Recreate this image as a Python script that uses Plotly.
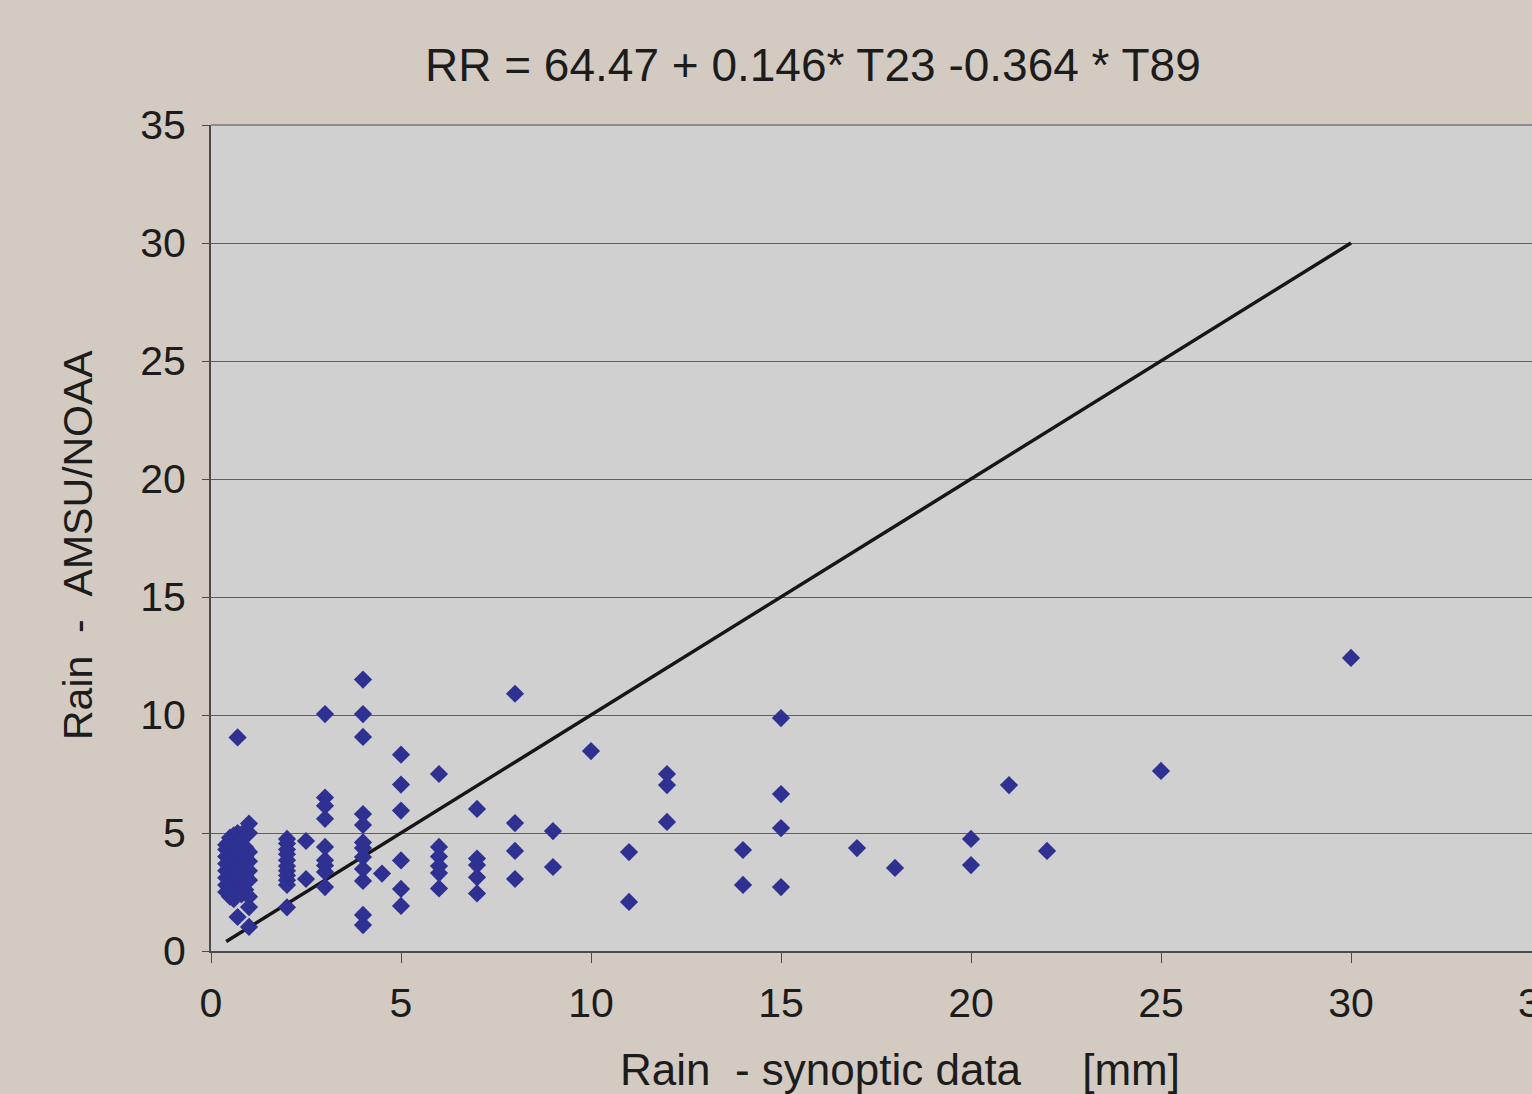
import plotly.graph_objects as go

# Rain gauge (synoptic) vs. AMSU/NOAA retrieved rain, mm
synoptic_mm = (
    [0.4] * 8 + [0.5] * 8 + [0.6] * 9 + [0.7] * 9 + [0.8] * 7 + [0.9] * 7 + [1.0] * 9
    + [2.0] * 11 + [2.5] * 2 + [3.0] * 9 + [4.0] * 12 + [4.5]
    + [5.0] * 6 + [6.0] * 6 + [7.0] * 5 + [8.0] * 4 + [9.0] * 2
    + [10.0] + [11.0] * 2 + [12.0] * 3 + [14.0] * 2 + [15.0] * 4
    + [17.0] + [18.0] + [20.0] * 2 + [21.0] + [22.0] + [25.0] + [30.0]
)
amsu_mm = [
    # 0.4
    4.5, 4.3, 4.0, 3.7, 3.4, 3.1, 2.8, 2.5,
    # 0.5
    4.8, 4.4, 3.9, 3.5, 3.2, 2.9, 2.6, 2.3,
    # 0.6
    4.9, 4.5, 4.2, 3.8, 3.3, 3.0, 2.7, 2.4, 2.2,
    # 0.7
    9.05, 5.0, 4.6, 4.1, 3.6, 3.4, 2.8, 2.5, 1.44,
    # 0.8
    4.7, 4.3, 3.9, 3.5, 3.1, 2.7, 2.4,
    # 0.9
    5.1, 4.4, 4.0, 3.7, 3.2, 2.9, 2.6,
    # 1.0
    5.4, 5.0, 4.2, 3.8, 3.4, 3.0, 2.3, 1.86, 1.02,
    # 2.0
    4.75, 4.55, 4.3, 4.1, 3.85, 3.6, 3.4, 3.2, 3.0, 2.8, 1.85,
    # 2.5
    4.66, 3.05,
    # 3.0
    10.04, 6.5, 6.15, 5.6, 4.41, 3.85, 3.62, 3.35, 2.71,
    # 4.0
    11.5, 10.04, 9.07, 5.8, 5.34, 4.6, 4.36, 3.98, 3.47, 2.97, 1.53, 1.1,
    # 4.5
    3.28,
    # 5.0
    8.32, 7.05, 5.95, 3.84, 2.63, 1.91,
    # 6.0
    7.5, 4.41, 4.0, 3.6, 3.3, 2.65,
    # 7.0
    6.02, 3.92, 3.64, 3.12, 2.44,
    # 8.0
    10.9, 5.42, 4.24, 3.05,
    # 9.0
    5.08, 3.56,
    # 10
    8.47,
    # 11
    4.19, 2.08,
    # 12
    7.5, 7.03, 5.47,
    # 14
    4.28, 2.8,
    # 15
    9.87, 6.65, 5.21, 2.71,
    # 17, 18
    4.36, 3.52,
    # 20
    4.75, 3.64,
    # 21, 22, 25, 30
    7.03, 4.24, 7.63, 12.42,
]

# 1:1 reference line
line_x = [0.4, 30]
line_y = [0.4, 30]

x_ticks = [0, 5, 10, 15, 20, 25, 30]
y_ticks = [0, 5, 10, 15, 20, 25, 30, 35]

title_text = "RR = 64.47 + 0.146* T23 -0.364 * T89"
x_title = "Rain\u00a0\u00a0- synoptic data\u00a0\u00a0\u00a0\u00a0\u00a0[mm]"
y_title = "Rain\u00a0\u00a0-\u00a0\u00a0AMSU/NOAA"

FONT = "Liberation Sans, Arial, sans-serif"
INK = "#1c1c1c"

X_MAX = 1321 / 38  # visible x extent of the plotting area

fig = go.Figure()

fig.add_trace(go.Scatter(
    x=line_x, y=line_y, mode="lines",
    line=dict(color="#161616", width=3.5),
    hoverinfo="skip", showlegend=False,
))

fig.add_trace(go.Scatter(
    x=synoptic_mm, y=amsu_mm, mode="markers",
    marker=dict(symbol="diamond", size=14, color="#2e3192",
                line=dict(width=0)),
    showlegend=False,
))

fig.update_layout(
    width=1532, height=1094,
    margin=dict(l=211, r=0, t=125, b=143),
    paper_bgcolor="#d3cbc1",
    plot_bgcolor="#d0d0d0",
    font=dict(family=FONT, color=INK, size=41),
    xaxis=dict(
        range=[0, X_MAX], tickvals=x_ticks, ticktext=[str(v) for v in x_ticks],
        showgrid=False, zeroline=False,
        showline=True, linecolor="#4a4a4a", linewidth=2,
        ticks="outside", ticklen=10, tickwidth=1, tickcolor="#4a4a4a",
        ticklabelstandoff=5,
        tickfont=dict(size=41, family=FONT, color=INK),
    ),
    yaxis=dict(
        range=[0, 35], tickvals=y_ticks, ticktext=[str(v) for v in y_ticks],
        showgrid=True, gridcolor="#5e5e5e", gridwidth=1.2,
        zeroline=False,
        showline=True, linecolor="#4a4a4a", linewidth=2,
        ticks="outside", ticklen=7, tickwidth=1, tickcolor="#4a4a4a",
        ticklabelstandoff=8,
        tickfont=dict(size=41, family=FONT, color=INK),
    ),
    shapes=[
        dict(type="line", xref="paper", yref="paper", x0=0, x1=1, y0=1, y1=1,
             line=dict(color="#8c8c8c", width=2)),
    ],
    annotations=[
        dict(text=title_text, xref="paper", yref="paper", x=(813 - 211) / 1321,
             y=1 + 60 / 826, xanchor="center", yanchor="middle", showarrow=False,
             font=dict(size=46, family=FONT, color=INK)),
        dict(text=x_title, xref="paper", yref="paper", x=(900 - 211) / 1321,
             y=-118 / 826, xanchor="center", yanchor="middle", showarrow=False,
             font=dict(size=44, family=FONT, color=INK)),
        dict(text=y_title, xref="paper", yref="paper", x=-133 / 1321,
             y=(951 - 545) / 826, xanchor="center", yanchor="middle", showarrow=False,
             textangle=-90,
             font=dict(size=41, family=FONT, color=INK)),
        # tick label for 35 sits just past the right edge of the page
        dict(text="35", xref="paper", yref="paper", x=35 / X_MAX, y=-52 / 826,
             xanchor="center", yanchor="middle", showarrow=False,
             font=dict(size=41, family=FONT, color=INK)),
    ],
)

fig.write_html("out.html")
